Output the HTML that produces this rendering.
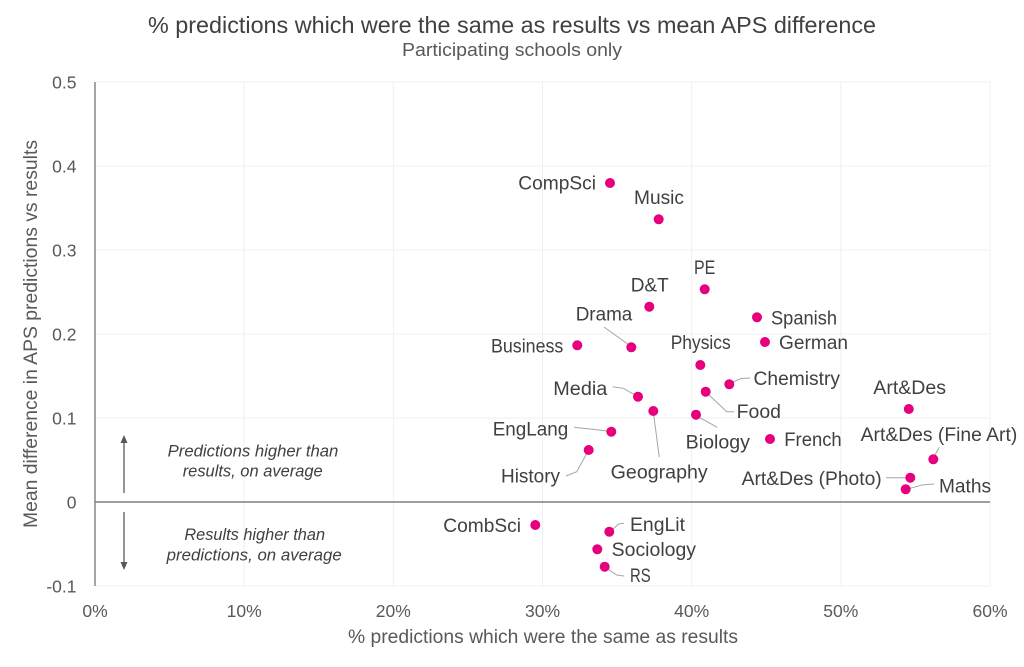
<!DOCTYPE html>
<html>
<head>
<meta charset="utf-8">
<style>
  html, body { margin:0; padding:0; background:#ffffff; }
  svg { display:block; }
  text { font-family: "Liberation Sans", "DejaVu Sans", sans-serif; }
</style>
</head>
<body>
<svg width="1024" height="667" viewBox="0 0 1024 667" xmlns="http://www.w3.org/2000/svg">
  <rect x="0" y="0" width="1024" height="667" fill="#ffffff"/>

  <!-- Title -->
  <text x="512" y="33" font-size="23" fill="#404040" text-anchor="middle" textLength="728" lengthAdjust="spacingAndGlyphs">% predictions which were the same as results vs mean APS difference</text>
  <text x="512" y="56" font-size="18" fill="#595959" text-anchor="middle" textLength="220" lengthAdjust="spacingAndGlyphs">Participating schools only</text>

  <!-- Gridlines horizontal -->
  <g stroke="#efefef" stroke-width="1">
    <line x1="95" y1="82" x2="990" y2="82"/>
    <line x1="95" y1="166" x2="990" y2="166"/>
    <line x1="95" y1="250" x2="990" y2="250"/>
    <line x1="95" y1="334" x2="990" y2="334"/>
    <line x1="95" y1="418" x2="990" y2="418"/>
    <line x1="95" y1="586" x2="990" y2="586"/>
    <!-- vertical -->
    <line x1="244.2" y1="82" x2="244.2" y2="586"/>
    <line x1="393.3" y1="82" x2="393.3" y2="586"/>
    <line x1="542.5" y1="82" x2="542.5" y2="586"/>
    <line x1="691.7" y1="82" x2="691.7" y2="586"/>
    <line x1="840.8" y1="82" x2="840.8" y2="586"/>
    <line x1="990" y1="82" x2="990" y2="586"/>
  </g>

  <!-- Axes -->
  <line x1="95" y1="82" x2="95" y2="586" stroke="#7f7f7f" stroke-width="1.4"/>
  <line x1="95" y1="502" x2="990" y2="502" stroke="#7f7f7f" stroke-width="1.4"/>

  <!-- Y tick labels -->
  <g font-size="17.5" fill="#595959" text-anchor="end">
    <text x="76.5" y="88.3">0.5</text>
    <text x="76.5" y="172.3">0.4</text>
    <text x="76.5" y="256.3">0.3</text>
    <text x="76.5" y="340.3">0.2</text>
    <text x="76.5" y="424.3">0.1</text>
    <text x="76.5" y="508.3">0</text>
    <text x="76.5" y="592.3">-0.1</text>
  </g>

  <!-- X tick labels -->
  <g font-size="17.5" fill="#595959" text-anchor="middle">
    <text x="95" y="617">0%</text>
    <text x="244.2" y="617">10%</text>
    <text x="393.3" y="617">20%</text>
    <text x="542.5" y="617">30%</text>
    <text x="691.7" y="617">40%</text>
    <text x="840.8" y="617">50%</text>
    <text x="990" y="617">60%</text>
  </g>

  <!-- Axis titles -->
  <text x="543" y="643" font-size="19" fill="#595959" text-anchor="middle" textLength="390" lengthAdjust="spacingAndGlyphs">% predictions which were the same as results</text>
  <text transform="translate(37,334) rotate(-90)" x="0" y="0" font-size="19" fill="#595959" text-anchor="middle" textLength="388" lengthAdjust="spacingAndGlyphs">Mean difference in APS predictions vs results</text>

  <!-- Annotation arrows -->
  <g stroke="#595959" stroke-width="1.3" fill="#595959">
    <line x1="124" y1="493" x2="124" y2="442"/>
    <polygon points="124,435 120.5,443 127.5,443" stroke="none"/>
    <line x1="124" y1="512" x2="124" y2="563"/>
    <polygon points="124,570 120.5,562 127.5,562" stroke="none"/>
  </g>
  <g font-size="16.5" font-style="italic" fill="#404040" text-anchor="middle">
    <text x="253" y="456.5" textLength="170.7" lengthAdjust="spacingAndGlyphs">Predictions higher than</text>
    <text x="252.7" y="476.7" textLength="140" lengthAdjust="spacingAndGlyphs">results, on average</text>
    <text x="254.7" y="540" textLength="140.7" lengthAdjust="spacingAndGlyphs">Results higher than</text>
    <text x="254.2" y="560.7" textLength="175" lengthAdjust="spacingAndGlyphs">predictions, on average</text>
  </g>

  <!-- Leader lines -->
  <g stroke="#a6a6a6" stroke-width="1" fill="none">
    <polyline points="604,327 630.5,346"/>
    <polyline points="733,382 741,378.5 750,378"/>
    <polyline points="706.7,392.7 726.7,411.7 734,411.7"/>
    <polyline points="612.7,386.7 623.3,388.3 636.7,396"/>
    <polyline points="653.3,411.7 659.3,457.3"/>
    <polyline points="696.7,416 717.3,427.3"/>
    <polyline points="574,427.3 610,431.3"/>
    <polyline points="588.7,450 576.7,471.7 566,476"/>
    <polyline points="939.3,447.3 934,456.7"/>
    <polyline points="886,477.7 908.3,477.7"/>
    <polyline points="910,488.3 922,485 934,484"/>
    <polyline points="610,531.7 618.7,524 624,523.3"/>
    <polyline points="606.7,568.3 616.7,575 624,576"/>
  </g>

  <!-- Dots -->
  <g fill="#e6007e">
    <circle cx="610" cy="183" r="5"/>
    <circle cx="658.7" cy="219.3" r="5"/>
    <circle cx="704.7" cy="289.3" r="5"/>
    <circle cx="649.3" cy="306.7" r="5"/>
    <circle cx="631.3" cy="347.3" r="5"/>
    <circle cx="577.3" cy="345.3" r="5"/>
    <circle cx="757" cy="317.3" r="5"/>
    <circle cx="765" cy="342" r="5"/>
    <circle cx="700.3" cy="365" r="5"/>
    <circle cx="729.3" cy="384.3" r="5"/>
    <circle cx="705.7" cy="391.7" r="5"/>
    <circle cx="638" cy="396.7" r="5"/>
    <circle cx="653.3" cy="411" r="5"/>
    <circle cx="696" cy="414.7" r="5"/>
    <circle cx="611.3" cy="431.7" r="5"/>
    <circle cx="588.7" cy="450" r="5"/>
    <circle cx="770" cy="439" r="5"/>
    <circle cx="908.8" cy="409" r="5"/>
    <circle cx="933.3" cy="459.3" r="5"/>
    <circle cx="910.3" cy="477.7" r="5"/>
    <circle cx="905.7" cy="489.3" r="5"/>
    <circle cx="535.3" cy="525" r="5"/>
    <circle cx="609.3" cy="531.7" r="5"/>
    <circle cx="597.3" cy="549.3" r="5"/>
    <circle cx="604.7" cy="566.7" r="5"/>
  </g>

  <!-- Point labels -->
  <g font-size="19" fill="#404040">
    <text x="518.3" y="189.5" textLength="77.7" lengthAdjust="spacingAndGlyphs">CompSci</text>
    <text x="634" y="203.8" textLength="50" lengthAdjust="spacingAndGlyphs">Music</text>
    <text x="694" y="273.8" textLength="21.3" lengthAdjust="spacingAndGlyphs">PE</text>
    <text x="630.7" y="291.5" textLength="38" lengthAdjust="spacingAndGlyphs">D&amp;T</text>
    <text x="575.7" y="320.5" textLength="56.6" lengthAdjust="spacingAndGlyphs">Drama</text>
    <text x="491" y="352.5" textLength="72.3" lengthAdjust="spacingAndGlyphs">Business</text>
    <text x="771" y="324.5" textLength="66" lengthAdjust="spacingAndGlyphs">Spanish</text>
    <text x="779" y="349" textLength="69" lengthAdjust="spacingAndGlyphs">German</text>
    <text x="670.7" y="349" textLength="60" lengthAdjust="spacingAndGlyphs">Physics</text>
    <text x="753.5" y="384.8" textLength="86.5" lengthAdjust="spacingAndGlyphs">Chemistry</text>
    <text x="736.7" y="418.2" textLength="44.3" lengthAdjust="spacingAndGlyphs">Food</text>
    <text x="553.3" y="394.8" textLength="54" lengthAdjust="spacingAndGlyphs">Media</text>
    <text x="610.7" y="478.5" textLength="97" lengthAdjust="spacingAndGlyphs">Geography</text>
    <text x="685.7" y="448.3" textLength="64.3" lengthAdjust="spacingAndGlyphs">Biology</text>
    <text x="492.7" y="435.5" textLength="75.6" lengthAdjust="spacingAndGlyphs">EngLang</text>
    <text x="501" y="482.7" textLength="59" lengthAdjust="spacingAndGlyphs">History</text>
    <text x="784.3" y="446" textLength="57.4" lengthAdjust="spacingAndGlyphs">French</text>
    <text x="873.3" y="393.8" textLength="72.7" lengthAdjust="spacingAndGlyphs">Art&amp;Des</text>
    <text x="860.7" y="440.8" textLength="156.6" lengthAdjust="spacingAndGlyphs">Art&amp;Des (Fine Art)</text>
    <text x="741.7" y="484.8" textLength="140" lengthAdjust="spacingAndGlyphs">Art&amp;Des (Photo)</text>
    <text x="939" y="492.5" textLength="52" lengthAdjust="spacingAndGlyphs">Maths</text>
    <text x="443.3" y="532.2" textLength="77.7" lengthAdjust="spacingAndGlyphs">CombSci</text>
    <text x="630" y="530.8" textLength="55" lengthAdjust="spacingAndGlyphs">EngLit</text>
    <text x="611.7" y="556" textLength="84.3" lengthAdjust="spacingAndGlyphs">Sociology</text>
    <text x="630" y="582.2" textLength="20.7" lengthAdjust="spacingAndGlyphs">RS</text>
  </g>
</svg>
</body>
</html>
